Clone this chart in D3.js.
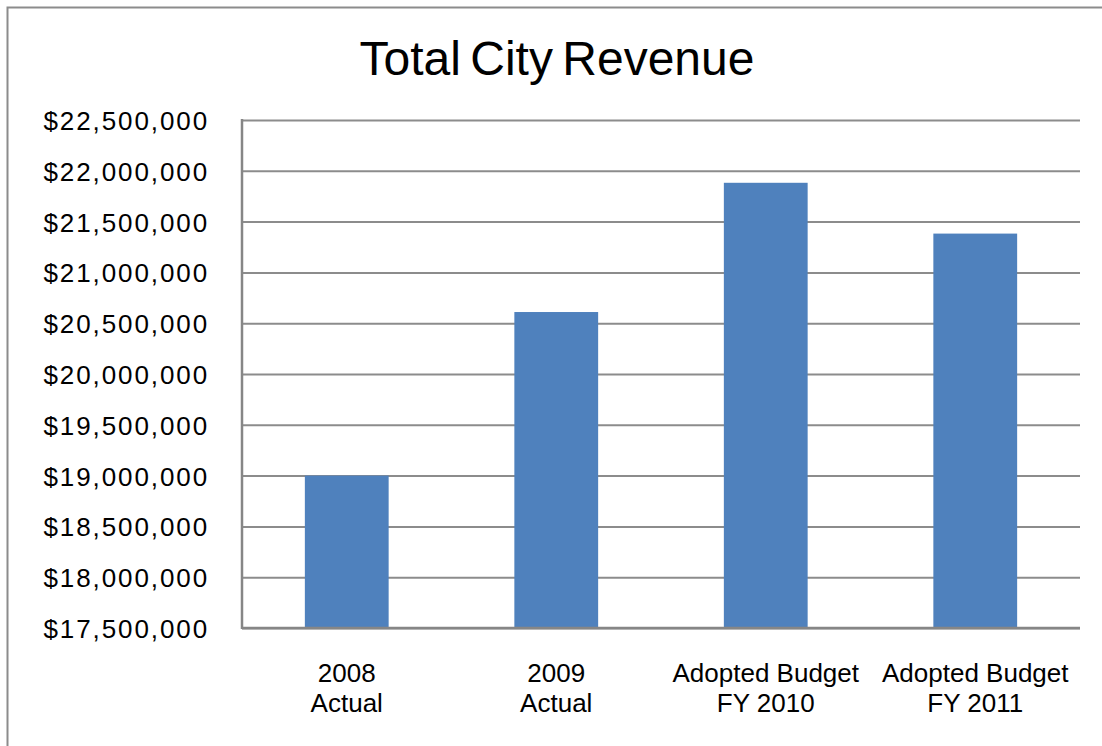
<!DOCTYPE html>
<html>
<head>
<meta charset="utf-8">
<script src="https://cdn.jsdelivr.net/npm/d3@7"></script>
<style>
  html, body { margin: 0; padding: 0; background: #fff; }
  svg { display: block; }
  text { font-family: "Liberation Sans", Arial, sans-serif; fill: #000; }
</style>
</head>
<body>
<svg id="chart" width="1102" height="746"></svg>
<script>
// Revenue by year
const categories = [["2008", "Actual"], ["2009", "Actual"], ["Adopted Budget", "FY 2010"], ["Adopted Budget", "FY 2011"]];
const revenue = [19000000, 20610000, 21882000, 21382000];
const yTicks = [17500000, 18000000, 18500000, 19000000, 19500000, 20000000, 20500000, 21000000, 21500000, 22000000, 22500000];
const titleText = "Total City Revenue";

const svg = d3.select("#chart");
const W = 1102, H = 746;
const plot = { left: 242, right: 1080, top: 120, bottom: 628 };

// chart frame (runs past the right and bottom edges)
svg.append("rect")
  .attr("x", 7.5).attr("y", 7.5)
  .attr("width", W + 20).attr("height", H + 20)
  .attr("fill", "#fff").attr("stroke", "#8c8c8c").attr("stroke-width", 2);

svg.append("text")
  .attr("x", 557).attr("y", 75)
  .attr("text-anchor", "middle")
  .attr("word-spacing", "-4")
  .style("font-size", "48px")
  .text(titleText);

const x = d3.scaleBand()
  .domain(d3.range(categories.length))
  .range([plot.left, plot.right])
  .paddingInner(0.6)
  .paddingOuter(0.3);

const y = d3.scaleLinear()
  .domain([17500000, 22500000])
  .range([plot.bottom, plot.top]);

const fmt = v => "$" + d3.format(",")(v);

// horizontal gridlines
const yAxis = d3.axisLeft(y)
  .tickValues(yTicks)
  .tickSize(-(plot.right - plot.left))
  .tickFormat("");
const gGrid = svg.append("g")
  .attr("transform", `translate(${plot.left},0)`)
  .call(yAxis);
gGrid.select(".domain").remove();
gGrid.selectAll(".tick line")
  .attr("stroke", "#8c8c8c").attr("stroke-width", 2);

// y tick labels
svg.append("g").selectAll("text")
  .data(yTicks)
  .join("text")
  .attr("x", 209)
  .attr("y", d => y(d) + 10)
  .attr("text-anchor", "end")
  .attr("letter-spacing", "1.9")
  .style("font-size", "26px")
  .text(fmt);

// bars
svg.append("g").selectAll("rect")
  .data(revenue)
  .join("rect")
  .attr("x", (d, i) => x(i))
  .attr("width", x.bandwidth())
  .attr("y", d => y(d))
  .attr("height", d => y(17500000) - y(d))
  .attr("fill", "#4f81bd");

// axis lines
svg.append("line")
  .attr("x1", plot.left).attr("x2", plot.left)
  .attr("y1", plot.top - 1).attr("y2", plot.bottom + 1)
  .attr("stroke", "#868686").attr("stroke-width", 2.5);
svg.append("line")
  .attr("x1", plot.left).attr("x2", plot.right)
  .attr("y1", plot.bottom).attr("y2", plot.bottom)
  .attr("stroke", "#868686").attr("stroke-width", 2.5);

// category labels (two lines each)
const gx = svg.append("g").selectAll("text")
  .data(categories)
  .join("text")
  .attr("text-anchor", "middle")
  .style("font-size", "26px");
gx.each(function(d, i) {
  const t = d3.select(this);
  const cx = x(i) + x.bandwidth() / 2;
  d.forEach((line, k) => {
    t.append("tspan")
      .attr("x", cx)
      .attr("y", 682 + k * 30)
      .text(line);
  });
});
</script>
</body>
</html>
